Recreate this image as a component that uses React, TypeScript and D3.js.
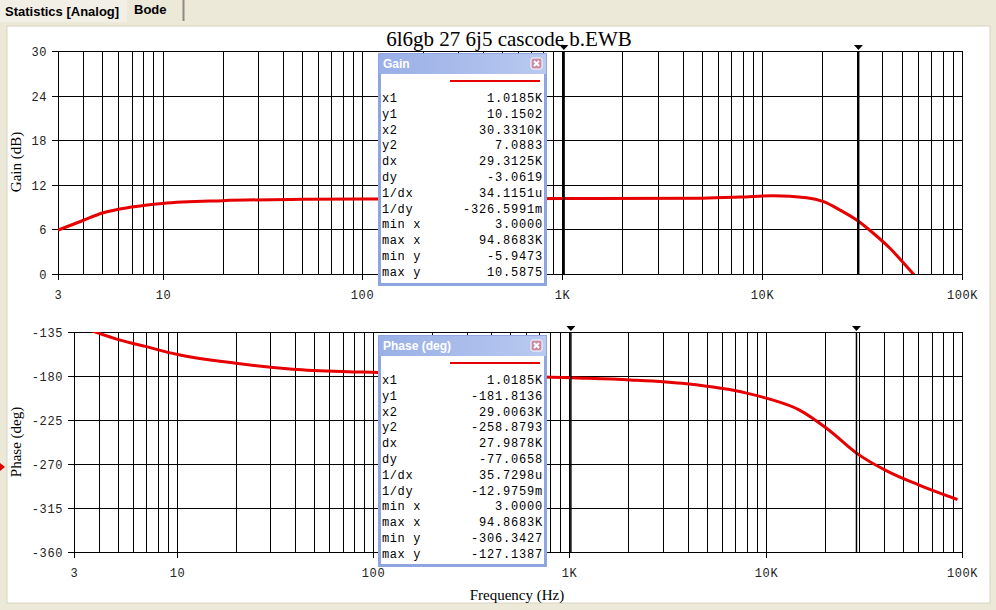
import React, { useRef, useEffect } from 'react'
import * as d3 from 'd3'

// gain curve (Hz, dB)
const gainFreq = [3, 4, 5, 7, 10, 20, 50, 100, 1018.5, 5000, 7800, 11400, 16700, 20300, 24500, 30331, 36000, 43600, 57100, 94868]
const gainDb = [5.9, 7.2, 8.2, 9.0, 9.5, 9.87, 10.05, 10.1, 10.15, 10.2, 10.35, 10.54, 10.27, 9.73, 8.61, 7.09, 5.48, 3.46, 0, -5.95]

// phase curve (Hz, deg)
const phaseFreq = [3, 5, 7, 10, 20, 39, 88, 1018.5, 2040, 3960, 8000, 10500, 14800, 20900, 29006, 41800, 59600, 94868]
const phaseDeg = [-127.1, -142.5, -150, -157.8, -167, -173, -176, -181.8, -184, -188, -197.5, -203.7, -214.6, -235, -258.9, -277.5, -291, -306.3]

const freqTicks = [3, 10, 100, 1000, 10000, 100000]
const freqTickLabels = ['3', '10', '100', '1K', '10K', '100K']
const gainTicks = [0, 6, 12, 18, 24, 30]
const phaseTicks = [-360, -315, -270, -225, -180, -135]

const gainCursors = [1018.5, 30331]
const phaseCursors = [1018.5, 29006.3]

const readoutLabels = ['x1', 'y1', 'x2', 'y2', 'dx', 'dy', '1/dx', '1/dy', 'min x', 'max x', 'min y', 'max y']
const gainReadout = ['1.0185K', '10.1502', '30.3310K', '7.0883', '29.3125K', '-3.0619', '34.1151u', '-326.5991m', '3.0000', '94.8683K', '-5.9473', '10.5875']
const phaseReadout = ['1.0185K', '-181.8136', '29.0063K', '-258.8793', '27.9878K', '-77.0658', '35.7298u', '-12.9759m', '3.0000', '94.8683K', '-306.3427', '-127.1387']

const W = 996
const H = 610
const mono = '"Liberation Mono", "DejaVu Sans Mono", monospace'
const serif = '"Liberation Serif", "DejaVu Serif", serif'
const sans = '"Liberation Sans", "DejaVu Sans", sans-serif'

// grid values 1..9 per decade inside the domain
const minorGrid = (lo: number, hi: number) => {
  const out: number[] = []
  for (let p = 0; p <= 5; p++) {
    for (let m = 1; m <= 9; m++) {
      const v = m * Math.pow(10, p)
      if (v > lo && v <= hi) out.push(v)
    }
  }
  return out
}

const App: React.FC = () => {
  const svgRef = useRef<SVGSVGElement | null>(null)

  useEffect(() => {
    if (!svgRef.current) return
    const svg = d3.select(svgRef.current)
    svg.selectAll('*').remove()

    // window chrome
    svg.append('rect').attr('width', W).attr('height', H).attr('fill', '#ece9d8')
    svg.append('rect').attr('x', 0).attr('y', 0).attr('width', 127).attr('height', 22).attr('fill', '#f1efe6')
    svg.append('line').attr('x1', 183.5).attr('x2', 183.5).attr('y1', 0).attr('y2', 21)
      .attr('stroke', '#8c8a80').attr('stroke-width', 2)
    svg.append('text').attr('x', 5).attr('y', 16).style('font-family', sans).style('font-size', '13px')
      .style('font-weight', 'bold').attr('fill', '#000').text('Statistics [Analog]')
    svg.append('text').attr('x', 134).attr('y', 14).style('font-family', sans).style('font-size', '13px')
      .style('font-weight', 'bold').attr('fill', '#000').text('Bode')
    svg.append('rect').attr('x', 7).attr('y', 26).attr('width', 983).attr('height', 577)
      .attr('fill', '#fff').attr('stroke', '#d8d4c4')

    // little red marker on the left edge
    svg.append('path').attr('d', 'M0,463 L5,467 L0,471 Z').attr('fill', '#e00000')

    // title
    svg.append('text').attr('x', 509).attr('y', 46).attr('text-anchor', 'middle')
      .style('font-family', serif).style('font-size', '21px').text('6l6gb 27 6j5 cascode b.EWB')

    const drawPlot = (
      id: string,
      x: d3.ScaleLogarithmic<number, number>,
      y: d3.ScaleLinear<number, number>,
      yTicks: number[],
      freq: number[],
      vals: number[],
      cursors: number[],
      cursorWidth: number,
      yLabel: string,
      labelY: number
    ) => {
      const [x0, x1] = x.range()
      const [yb, yt] = y.range()
      const g = svg.append('g')

      // grid
      minorGrid(3, 100000).forEach(v => {
        g.append('line').attr('x1', Math.round(x(v)) + 0.5).attr('x2', Math.round(x(v)) + 0.5)
          .attr('y1', yt).attr('y2', yb).attr('stroke', '#000').attr('stroke-width', 1)
      })
      yTicks.forEach(v => {
        const yy = Math.round(y(v)) + 0.5
        g.append('line').attr('x1', x0 - 6).attr('x2', x1).attr('y1', yy).attr('y2', yy)
          .attr('stroke', '#000')
        g.append('text').attr('x', x0 - 11).attr('y', yy + 4).attr('text-anchor', 'end')
          .style('font-family', mono).style('font-size', '12px').style('letter-spacing', '0.6px')
          .attr('fill', '#222').text(String(v))
      })
      g.append('line').attr('x1', Math.round(x0) + 0.5).attr('x2', Math.round(x0) + 0.5)
        .attr('y1', yt).attr('y2', yb + 6).attr('stroke', '#000')
      freqTicks.forEach((v, i) => {
        const xx = Math.round(x(v)) + 0.5
        g.append('line').attr('x1', xx).attr('x2', xx).attr('y1', yb).attr('y2', yb + 6).attr('stroke', '#000')
        g.append('text').attr('x', xx).attr('y', yb + 25).attr('text-anchor', 'middle')
          .style('font-family', mono).style('font-size', '12px').style('letter-spacing', '0.6px')
          .attr('fill', '#222').text(freqTickLabels[i])
      })

      // y label
      g.append('text').attr('transform', `translate(21,${labelY}) rotate(-90)`).attr('text-anchor', 'middle')
        .style('font-family', serif).style('font-size', '15px').text(yLabel)

      // curve
      g.append('defs').append('clipPath').attr('id', id)
        .append('rect').attr('x', x0).attr('y', yt).attr('width', x1 - x0).attr('height', yb - yt)
      const pts = freq.map((f, i) => [f, vals[i]] as [number, number])
      const line = d3.line<[number, number]>()
        .x(d => x(d[0]))
        .y(d => y(d[1]))
        .curve(d3.curveMonotoneX)
      g.append('path').datum(pts).attr('clip-path', `url(#${id})`)
        .attr('fill', 'none').attr('stroke', '#e60000').attr('stroke-width', 3)
        .attr('d', line)

      // cursors
      cursors.forEach(c => {
        const xx = x(c)
        g.append('line').attr('x1', xx).attr('x2', xx).attr('y1', yt).attr('y2', yb)
          .attr('stroke', '#000').attr('stroke-width', cursorWidth)
        g.append('path').attr('d', `M${xx - 4.5},${yt - 6} L${xx + 4.5},${yt - 6} L${xx},${yt - 1} Z`)
          .attr('fill', '#000')
      })
    }

    const xGain = d3.scaleLog().domain([3, 100000]).range([58, 962])
    const yGain = d3.scaleLinear().domain([0, 30]).range([274, 51])
    drawPlot('clipGain', xGain, yGain, gainTicks, gainFreq, gainDb, gainCursors, 2, 'Gain (dB)', 162)

    const xPhase = d3.scaleLog().domain([3, 100000]).range([74, 962])
    const yPhase = d3.scaleLinear().domain([-360, -135]).range([552, 332])
    drawPlot('clipPhase', xPhase, yPhase, phaseTicks, phaseFreq, phaseDeg, phaseCursors, 1.5, 'Phase (deg)', 442)

    svg.append('text').attr('x', 517).attr('y', 600).attr('text-anchor', 'middle')
      .style('font-family', serif).style('font-size', '15px').text('Frequency (Hz)')

    // readout dialogs
    const drawDialog = (dx: number, dy: number, w: number, h: number, title: string, values: string[]) => {
      const g = svg.append('g').attr('transform', `translate(${dx},${dy})`)
      const grad = svg.append('defs').append('linearGradient').attr('id', `tb-${title.length}`)
      grad.append('stop').attr('offset', '0%').attr('stop-color', '#99afe6')
      grad.append('stop').attr('offset', '100%').attr('stop-color', '#b9c9f0')
      g.append('rect').attr('width', w).attr('height', h).attr('fill', '#8fa5e2')
      g.append('rect').attr('x', 1).attr('y', 1).attr('width', w - 2).attr('height', 20)
        .attr('fill', `url(#tb-${title.length})`)
      g.append('rect').attr('x', 3).attr('y', 21).attr('width', w - 6).attr('height', h - 24).attr('fill', '#fff')
      g.append('text').attr('x', 5).attr('y', 15).style('font-family', sans).style('font-size', '12px')
        .style('font-weight', 'bold').attr('fill', '#fff').text(title)
      // close box
      g.append('rect').attr('x', w - 16).attr('y', 5).attr('width', 11).attr('height', 11).attr('rx', 2)
        .attr('fill', '#c98ca4').attr('stroke', '#fff')
      g.append('path').attr('d', `M${w - 13},8 L${w - 8},13 M${w - 8},8 L${w - 13},13`)
        .attr('stroke', '#fff').attr('stroke-width', 2)
      // legend swatch
      g.append('line').attr('x1', 72).attr('x2', w - 7).attr('y1', 28).attr('y2', 28)
        .attr('stroke', '#e60000').attr('stroke-width', 2)
      readoutLabels.forEach((lab, i) => {
        const yy = 49 + i * 15.8
        g.append('text').attr('x', 4).attr('y', yy).style('font-family', mono).style('font-size', '12px')
          .style('letter-spacing', '0.6px').attr('fill', '#000').text(lab)
        g.append('text').attr('x', w - 4).attr('y', yy).attr('text-anchor', 'end')
          .style('font-family', mono).style('font-size', '12px').style('letter-spacing', '0.8px')
          .attr('fill', '#000').text(values[i])
      })
    }

    drawDialog(378, 53, 169, 233, 'Gain', gainReadout)
    drawDialog(378, 335, 169, 232, 'Phase (deg)', phaseReadout)
  }, [])

  return (
    <div style={{ position: 'fixed', left: 0, top: 0 }}>
      <svg ref={svgRef} width={W} height={H} style={{ display: 'block' }} />
    </div>
  )
}

export default App
